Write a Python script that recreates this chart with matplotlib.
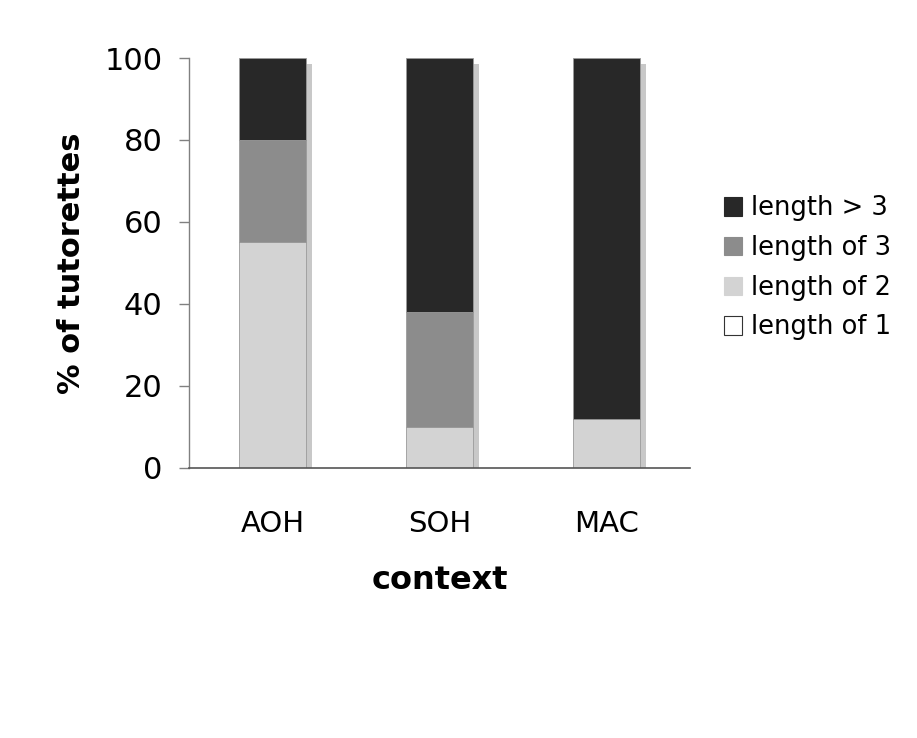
import matplotlib
matplotlib.use("Agg")
import matplotlib.pyplot as plt
import matplotlib.transforms as mtransforms
from matplotlib.patches import Patch
import numpy as np

categories = ["AOH", "SOH", "MAC"]
len1 = [0, 0, 0]
len2 = [55, 10, 12]
len3 = [25, 28, 0]
len_gt3 = [20, 62, 88]

series = [
    ("length of 1", len1, "#ffffff"),
    ("length of 2", len2, "#d3d3d3"),
    ("length of 3", len3, "#8c8c8c"),
    ("length > 3", len_gt3, "#282828"),
]

plt.rcParams["font.family"] = ["DejaVu Sans"]

fig = plt.figure(figsize=(9.17, 7.38), dpi=100)
ax = fig.add_axes([0.2061, 0.3659, 0.5463, 0.5555])

x = np.arange(len(categories))
width = 0.4

# drop shadow behind each stacked column, clipped at the baseline
totals = np.sum([s[1] for s in series], axis=0)
shadow_tr = mtransforms.offset_copy(ax.transData, fig=fig, x=4.5, y=-4.0, units="points")
ax.bar(x, totals, width=width, color="#c8c8c8", edgecolor="none",
       transform=shadow_tr, zorder=1, clip_on=True)

bottom = np.zeros(len(categories))
for label, vals, color in series:
    vals = np.asarray(vals, dtype=float)
    ec = "#333333" if color == "#ffffff" else "#9a9a9a"
    ax.bar(x, vals, width=width, bottom=bottom, color=color, edgecolor=ec,
           linewidth=0.6, zorder=2)
    bottom += vals

ax.set_xlim(-0.5, 2.5)
ax.set_ylim(0, 100)
ax.set_yticks([0, 20, 40, 60, 80, 100])
ax.set_xticks(x)
ax.set_xticklabels(categories)

for side in ("top", "right"):
    ax.spines[side].set_visible(False)
ax.spines["left"].set_color("#808080")
ax.spines["bottom"].set_color("#555555")
ax.spines["left"].set_linewidth(1.0)
ax.spines["bottom"].set_linewidth(1.2)
ax.spines["bottom"].set_zorder(3)

ax.tick_params(axis="y", length=7, width=1.0, color="#808080", pad=12, labelsize=22)
ax.tick_params(axis="x", length=0, pad=30, labelsize=21)

ax.set_ylabel("% of tutorettes", fontsize=22, fontweight="bold", labelpad=13)
ax.set_xlabel("context", fontsize=23, fontweight="bold", labelpad=20)

handles = [Patch(facecolor=c, edgecolor=("#333333" if c == "#ffffff" else c), linewidth=0.8, label=l)
           for l, _, c in reversed(series)]
fig.legend(handles=handles, loc="center left", bbox_to_anchor=(0.778, 0.637),
           frameon=False, fontsize=18.5, handlelength=0.72, handleheight=0.72,
           handletextpad=0.35, labelspacing=0.53, borderaxespad=0)

fig.savefig("out.png", dpi=100, facecolor="white")
